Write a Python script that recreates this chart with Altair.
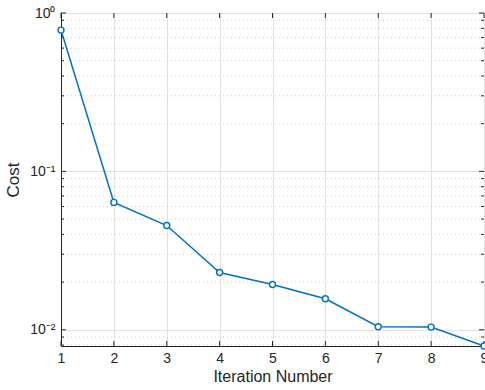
import altair as alt
import pandas as pd

iterations = [1, 2, 3, 4, 5, 6, 7, 8, 9]
cost = [0.78, 0.0637, 0.0455, 0.0230, 0.0193, 0.0157, 0.01045, 0.0104, 0.0079]
x_ticks = [1, 2, 3, 4, 5, 6, 7, 8, 9]
y_major = [0.01, 0.1, 1]
y_minor = [0.008, 0.009, 0.02, 0.03, 0.04, 0.05, 0.06, 0.07, 0.08, 0.09,
           0.2, 0.3, 0.4, 0.5, 0.6, 0.7, 0.8, 0.9]

W, H = 423, 333
df = pd.DataFrame({"it": iterations, "cost": cost})
xs = alt.Scale(domain=[1, 9], nice=False, zero=False)
ys = alt.Scale(type="log", domain=[0.0079, 1], nice=False)

dark = "#262626"
font = "Liberation Sans"

x_axis = alt.Axis(values=x_ticks, grid=True, gridColor="#e1e1e1", ticks=False,
                  labelFontSize=14, titleFontSize=16, labelColor=dark, titleColor=dark,
                  labelFont=font, titleFont=font, domainColor=dark, labelPadding=5,
                  titlePadding=3, format="d", labelFlush=False, titleFontWeight="normal")
y_axis = alt.Axis(values=y_major, grid=True, gridColor="#e1e1e1", ticks=False,
                  labelExpr="datum.value >= 1 ? '10⁰' : (datum.value >= 0.1 ? '10⁻¹' : '10⁻²')",
                  labelFontSize=14, titleFontSize=17, labelColor=dark, titleColor=dark,
                  labelFont=font, titleFont=font, domainColor=dark, labelPadding=6,
                  titlePadding=7, labelFlush=False, titleFontWeight="normal")


def X(f):
    return alt.X(f, scale=xs, title="Iteration Number", axis=x_axis)


def Y(f):
    return alt.Y(f, scale=ys, title="Cost", axis=y_axis)


line = alt.Chart(df).mark_line(
    color="#0072BD", strokeWidth=1.5,
    point=alt.OverlayMarkDef(filled=False, fill="white", color="#0072BD", size=36, strokeWidth=1.4)
).encode(x=X("it:Q"), y=Y("cost:Q"))

minor_grid = alt.Chart(pd.DataFrame({"cost": y_minor})).mark_rule(
    color="#cfcfcf", strokeDash=[1, 3], strokeWidth=1
).encode(y=Y("cost:Q"))

xt = pd.DataFrame({"it": x_ticks})
x_ticks_bot = alt.Chart(xt).mark_rule(color=dark).encode(
    x=X("it:Q"), y=alt.value(H), y2=alt.value(H - 5))
x_ticks_top = alt.Chart(xt).mark_rule(color=dark).encode(
    x=X("it:Q"), y=alt.value(0), y2=alt.value(5))

ym = pd.DataFrame({"cost": y_major})
yn = pd.DataFrame({"cost": y_minor})
y_maj_l = alt.Chart(ym).mark_rule(color=dark).encode(
    y=Y("cost:Q"), x=alt.value(0), x2=alt.value(5))
y_maj_r = alt.Chart(ym).mark_rule(color=dark).encode(
    y=Y("cost:Q"), x=alt.value(W), x2=alt.value(W - 5))
y_min_l = alt.Chart(yn).mark_rule(color=dark).encode(
    y=Y("cost:Q"), x=alt.value(0), x2=alt.value(3))
y_min_r = alt.Chart(yn).mark_rule(color=dark).encode(
    y=Y("cost:Q"), x=alt.value(W), x2=alt.value(W - 3))

chart = alt.layer(
    minor_grid, x_ticks_bot, x_ticks_top, y_maj_l, y_maj_r, y_min_l, y_min_r, line
).properties(
    width=W, height=H,
    autosize=alt.AutoSizeParams(type="none"),
    padding={"left": 61, "top": 13, "right": 1, "bottom": 44},
).configure_view(stroke=dark, strokeWidth=1).configure(background="white")

chart.save("out.html", embed_options={"renderer": "svg", "actions": False})
